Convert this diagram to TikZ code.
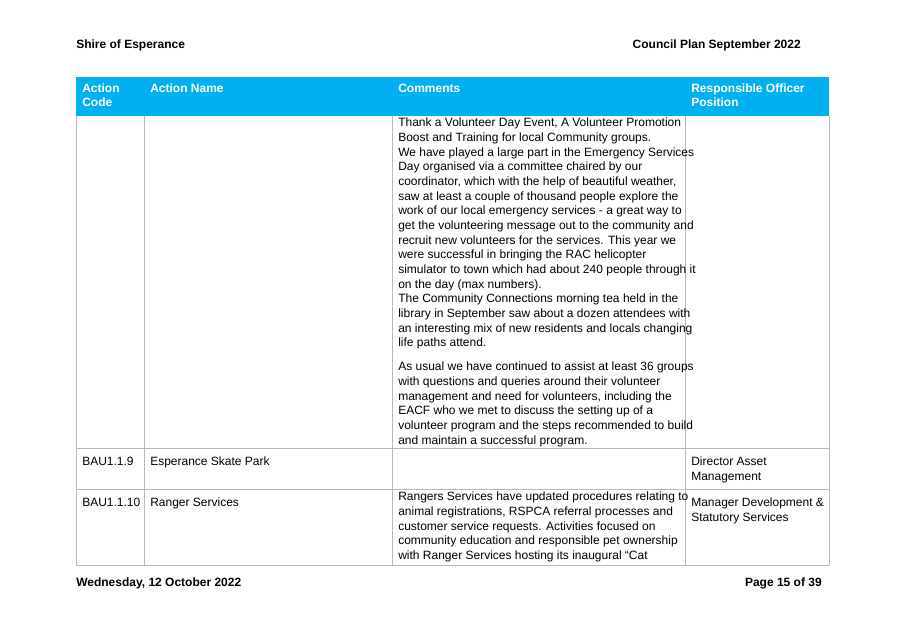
\documentclass[tikz,border=0pt]{standalone}
\usepackage{fontspec}
\setmainfont{Liberation Sans}
\definecolor{headcyan}{RGB}{0,176,240}
\tikzset{
  cell/.style={anchor=north west, inner sep=0pt, align=left, font=\fontsize{9}{11}\selectfont},
  headtxt/.style={cell, text=white, font=\fontsize{9}{10.5}\selectfont\bfseries},
  page/.style={inner sep=0pt, font=\fontsize{9}{11}\selectfont\bfseries},
  rule/.style={draw=gray!55, line width=0.5pt}
}
\begin{document}
\begin{tikzpicture}[x=0.75pt, y=-0.75pt]
	\useasboundingbox (0,0) rectangle (907,641);
	% page header and footer
	\node[page, anchor=west] (shire) at (76,45) {Shire of Esperance};
	\node[page, anchor=east] (plan) at (801,45) {Council Plan September 2022};
	\node[page, anchor=west] (date) at (76,583) {Wednesday, 12 October 2022};
	\node[page, anchor=east] (pageno) at (822,583) {Page 15 of 39};
	% header row
	\fill[headcyan] (76,77) rectangle (829,116);
	\node[headtxt] (hcode) at (82,84) {Action\\Code};
	\node[headtxt] (hname) at (150,84) {Action Name};
	\node[headtxt] (hcomm) at (398,84) {Comments};
	\node[headtxt] (hresp) at (691,84) {Responsible Officer\\Position};
	% grid
	\foreach \x in {76,144,392,685,829}
		\draw[rule] (\x,116) -- (\x,565);
	\foreach \y in {448,489,565}
		\draw[rule] (76,\y) -- (829,\y);
	% first row
	\node[cell] (c1a) at (398,118) {Thank a Volunteer Day Event, A Volunteer Promotion\\
Boost and Training for local Community groups.\\
We have played a large part in the Emergency Services\\
Day organised via a committee chaired by our\\
coordinator, which with the help of beautiful weather,\\
saw at least a couple of thousand people explore the\\
work of our local emergency services - a great way to\\
get the volunteering message out to the community and\\
recruit new volunteers for the services.  This year we\\
were successful in bringing the RAC helicopter\\
simulator to town which had about 240 people through it\\
on the day (max numbers).\\
The Community Connections morning tea held in the\\
library in September saw about a dozen attendees with\\
an interesting mix of new residents and locals changing\\
life paths attend.};
	\node[cell] (c1b) at (398,362) {As usual we have continued to assist at least 36 groups\\
with questions and queries around their volunteer\\
management and need for volunteers, including the\\
EACF who we met to discuss the setting up of a\\
volunteer program and the steps recommended to build\\
and maintain a successful program.};
	% second row
	\node[cell] (code2) at (82,457) {BAU1.1.9};
	\node[cell] (name2) at (150,457) {Esperance Skate Park};
	\node[cell] (resp2) at (691,457) {Director Asset\\Management};
	% third row
	\node[cell] (code3) at (82,498) {BAU1.1.10};
	\node[cell] (name3) at (150,498) {Ranger Services};
	\node[cell] (c3) at (398,492) {Rangers Services have updated procedures relating to\\
animal registrations, RSPCA referral processes and\\
customer service requests. Activities focused on\\
community education and responsible pet ownership\\
with Ranger Services hosting its inaugural ``Cat};
	\node[cell] (resp3) at (691,498) {Manager Development \&\\Statutory Services};
\end{tikzpicture}
\end{document}
